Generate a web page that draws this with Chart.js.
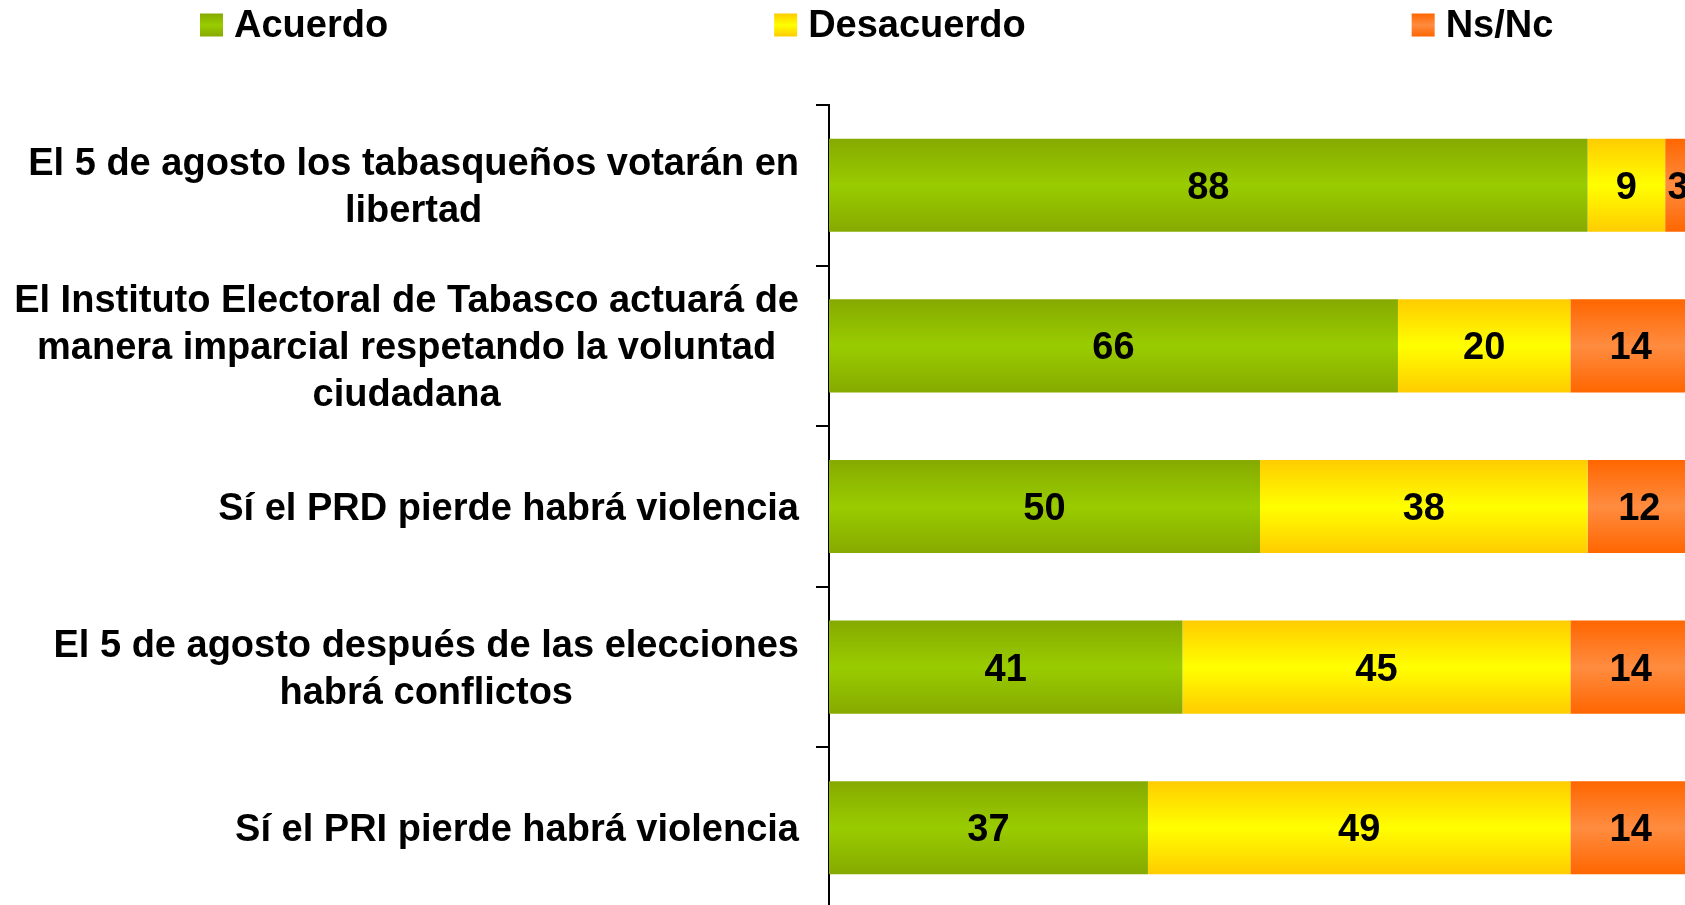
<!DOCTYPE html>
<html>
<head>
<meta charset="utf-8">
<script src="https://cdn.jsdelivr.net/npm/chart.js@4/dist/chart.umd.min.js"></script>
<style>
  html, body { margin: 0; padding: 0; background: #fff; overflow: hidden; }
  #wrap { width: 1685px; height: 908px; position: relative; }
</style>
</head>
<body>
<div id="wrap"><canvas id="chart"></canvas></div>
<script>
// categories (one entry per line of the label)
const categories = [
  ["El 5 de agosto los tabasqueños votarán en", "libertad"],
  ["El Instituto Electoral de Tabasco actuará de", "manera imparcial respetando la voluntad", "ciudadana"],
  ["Sí el PRD pierde habrá violencia"],
  ["El 5 de agosto después de las elecciones", "habrá conflictos"],
  ["Sí el PRI pierde habrá violencia"]
];

const seriesNames = ["Acuerdo", "Desacuerdo", "Ns/Nc"];
const acuerdo    = [88, 66, 50, 41, 37];
const desacuerdo = [9, 20, 38, 45, 49];
const nsnc       = [3, 14, 12, 14, 14];

// edge colour, middle colour of each bar gradient
const greenStops  = ["#86aa00", "#99cc00"];
const yellowStops = ["#ffcc00", "#ffff00"];
const orangeStops = ["#ff6600", "#ff8c40"];

const FONT = "'Liberation Sans', Arial, sans-serif";
const BAR_PCT = 0.58;

function barFill(stops) {
  return function (ctx) {
    const chart = ctx.chart;
    const y = chart.scales.y;
    if (!y || ctx.type !== 'data') return stops[1];
    const c = y.getPixelForValue(ctx.dataIndex);
    const half = (y.height / categories.length) * BAR_PCT / 2;
    if (!isFinite(c) || !isFinite(half) || half <= 0) return stops[1];
    const g = chart.ctx.createLinearGradient(0, c - half, 0, c + half);
    g.addColorStop(0, stops[0]);
    g.addColorStop(0.5, stops[1]);
    g.addColorStop(1, stops[0]);
    return g;
  };
}

// category labels: block right-aligned next to the axis, lines centred inside the block
const labelPlugin = {
  id: 'catLabels',
  afterDraw(chart) {
    const ctx = chart.ctx;
    const y = chart.scales.y;
    const right = 799, lineH = 47;
    ctx.save();
    ctx.font = "bold 38px " + FONT;
    ctx.fillStyle = "#000";
    ctx.textAlign = "center";
    ctx.textBaseline = "middle";
    categories.forEach((lines, i) => {
      const w = Math.max(...lines.map(l => ctx.measureText(l).width));
      const cx = right - w / 2;
      const cy = y.getPixelForValue(i) + 3;
      lines.forEach((l, k) => {
        ctx.fillText(l, cx, cy + (k - (lines.length - 1) / 2) * lineH);
      });
    });
    ctx.restore();
  }
};

// value labels in the middle of every segment
const valuePlugin = {
  id: 'values',
  afterDatasetsDraw(chart) {
    const ctx = chart.ctx;
    ctx.save();
    ctx.font = "bold 38px " + FONT;
    ctx.fillStyle = "#000";
    ctx.textAlign = "center";
    ctx.textBaseline = "middle";
    chart.data.datasets.forEach((ds, di) => {
      chart.getDatasetMeta(di).data.forEach((bar, i) => {
        const p = bar.getProps(['x', 'base', 'y'], true);
        ctx.fillText(String(ds.data[i]), (p.x + p.base) / 2, p.y + 3);
      });
    });
    ctx.restore();
  }
};

// legend row across the top
const legendPlugin = {
  id: 'topLegend',
  afterDraw(chart) {
    const ctx = chart.ctx;
    const stops = [greenStops, yellowStops, orangeStops];
    let x = 200;
    const box = 23, cy = 25, gap = 386;
    ctx.save();
    ctx.font = "bold 38px " + FONT;
    ctx.textBaseline = "middle";
    ctx.textAlign = "left";
    seriesNames.forEach((name, i) => {
      const g = ctx.createLinearGradient(0, cy - box / 2, 0, cy + box / 2);
      g.addColorStop(0, stops[i][0]);
      g.addColorStop(0.5, stops[i][1]);
      g.addColorStop(1, stops[i][0]);
      ctx.fillStyle = g;
      ctx.fillRect(x, cy - box / 2, box, box);
      ctx.fillStyle = "#000";
      ctx.fillText(name, x + box + 11, cy + 2);
      x += box + 11 + ctx.measureText(name).width + gap;
    });
    ctx.restore();
  }
};

new Chart(document.getElementById("chart"), {
  type: "bar",
  data: {
    labels: categories,
    datasets: [
      { label: seriesNames[0], data: acuerdo, backgroundColor: barFill(greenStops) },
      { label: seriesNames[1], data: desacuerdo, backgroundColor: barFill(yellowStops) },
      { label: seriesNames[2], data: nsnc, backgroundColor: barFill(orangeStops) }
    ]
  },
  options: {
    indexAxis: "y",
    responsive: true,
    maintainAspectRatio: false,
    animation: false,
    devicePixelRatio: 1,
    layout: { padding: { top: 105, bottom: 0, left: 0, right: 0 } },
    datasets: {
      bar: { categoryPercentage: 1, barPercentage: BAR_PCT, borderWidth: 0 }
    },
    plugins: {
      legend: { display: false },
      tooltip: { enabled: false }
    },
    scales: {
      x: { stacked: true, min: 0, max: 99.3, display: false },
      y: {
        stacked: true,
        afterFit(scale) { scale.width = 829; },
        grid: {
          display: true,
          drawOnChartArea: false,
          drawTicks: true,
          tickLength: 13,
          color: "#000",
          lineWidth: 2,
          offset: true
        },
        border: { display: true, color: "#000", width: 2 },
        ticks: { display: false }
      }
    }
  },
  plugins: [labelPlugin, valuePlugin, legendPlugin]
});
</script>
</body>
</html>
